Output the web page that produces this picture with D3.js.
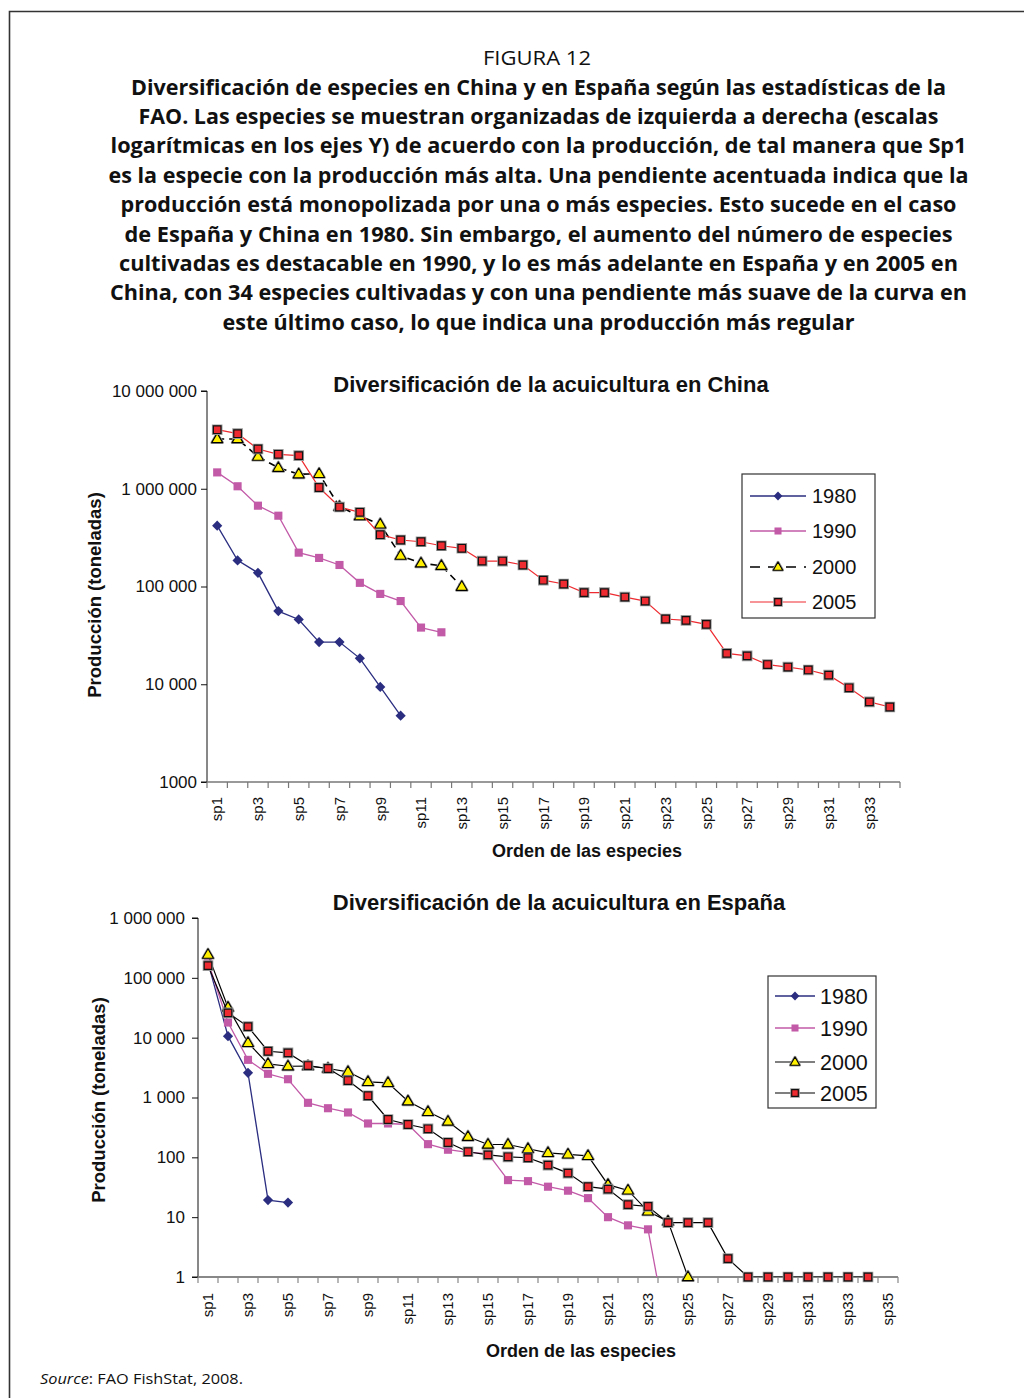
<!DOCTYPE html>
<html><head><meta charset="utf-8">
<script src="https://cdn.jsdelivr.net/npm/d3@7"></script>
<style>body{margin:0;background:#fff}</style>
</head><body><svg id="c" width="1024" height="1398"></svg>
<script>
// ---------- DATA ----------
const chinaCats = ["sp1","sp2","sp3","sp4","sp5","sp6","sp7","sp8","sp9","sp10","sp11","sp12","sp13","sp14","sp15","sp16","sp17","sp18","sp19","sp20","sp21","sp22","sp23","sp24","sp25","sp26","sp27","sp28","sp29","sp30","sp31","sp32","sp33","sp34"];
const spainCats = ["sp1","sp2","sp3","sp4","sp5","sp6","sp7","sp8","sp9","sp10","sp11","sp12","sp13","sp14","sp15","sp16","sp17","sp18","sp19","sp20","sp21","sp22","sp23","sp24","sp25","sp26","sp27","sp28","sp29","sp30","sp31","sp32","sp33","sp34","sp35"];
const seriesNames = ["1980","1990","2000","2005"];

const china1980 = [419000,185000,138000,56000,46000,27000,27000,18400,9400,4770];
const china1990 = [1470000,1060000,671000,530000,222000,196000,166000,109000,84000,71000,38000,34000];
const china2000 = [3230000,3230000,2130000,1640000,1410000,1420000,655000,526000,433000,207000,173000,163000,99600];
const china2005 = [4020000,3660000,2550000,2250000,2180000,1030000,650000,574000,339000,299000,287000,261000,246000,182000,182000,166000,116000,106000,86500,86500,78000,71000,46500,45000,41000,20700,19500,15900,15000,14000,12400,9200,6600,5850];

const spain1980 = [181000,10600,2580,19.3,17.5];
const spain1990 = [188000,17900,4260,2490,2020,815,662,562,368,368,354,166,134,121,115,41.6,40,32.3,27.7,20.8,10,7.3,6.26,0.1];
const spain2000 = [244000,32000,8200,3650,3330,3350,3050,2690,1830,1760,867,577,397,221,164,164,139,119,112,106,34.9,28,12.5,8.5,1];
const spain2005 = [160000,26000,15300,5930,5570,3420,3050,1920,1070,429,354,300,177,124,110,102,98.5,74,54.5,32.3,29.4,16.2,15.1,8.1,8.1,8.1,2.03,1,1,1,1,1,1,1];

const chinaTickValues = [1000,10000,100000,1000000,10000000];
const chinaTickLabels = ["1000","10 000","100 000","1 000 000","10 000 000"];
const spainTickValues = [1,10,100,1000,10000,100000,1000000];
const spainTickLabels = ["1","10","100","1 000","10 000","100 000","1 000 000"];

const titleLines = [
 "Diversificación de especies en China y en España según las estadísticas de la",
 "FAO. Las especies se muestran organizadas de izquierda a derecha (escalas",
 "logarítmicas en los ejes Y) de acuerdo con la producción, de tal manera que Sp1",
 "es la especie con la producción más alta. Una pendiente acentuada indica que la",
 "producción está monopolizada por una o más especies. Esto sucede en el caso",
 "de España y China en 1980. Sin embargo, el aumento del número de especies",
 "cultivadas es destacable en 1990, y lo es más adelante en España y en 2005 en",
 "China, con 34 especies cultivadas y con una pendiente más suave de la curva en",
 "este último caso, lo que indica una producción más regular"
];
const titleWidths = [815,800,856,860,836,828,839,857,632];

// ---------- DRAW ----------
const svg = d3.select("#c");
svg.append("rect").attr("width",1024).attr("height",1398).attr("fill","#fff");
svg.append("path").attr("d","M9.5,1398 V11.5 H1024").attr("fill","none").attr("stroke","#333").attr("stroke-width",1.6);

const TF = "'Open Sans', 'DejaVu Sans', sans-serif";
const AF = "'Liberation Sans', Arial, sans-serif";

svg.append("text").attr("x",537).attr("y",65).attr("text-anchor","middle")
  .attr("font-family",TF).attr("font-size",20).attr("textLength",108).attr("lengthAdjust","spacingAndGlyphs")
  .attr("fill","#111").text("FIGURA 12");
titleLines.forEach((t,i)=>{
  svg.append("text").attr("x",538.5).attr("y",94.5+i*29.4).attr("text-anchor","middle")
    .attr("font-family",TF).attr("font-weight","bold").attr("font-size",21)
    .attr("textLength",titleWidths[i]).attr("lengthAdjust","spacingAndGlyphs")
    .attr("fill","#111").text(t);
});

const src = svg.append("text").attr("x",40).attr("y",1384).attr("font-family",TF).attr("font-size",14.5)
  .attr("textLength",203).attr("lengthAdjust","spacingAndGlyphs").attr("fill","#111");
src.append("tspan").attr("font-style","italic").text("Source");
src.append("tspan").text(": FAO FishStat, 2008.");

const NAVY="#2b2e80", PINK="#c25aa8", RED="#ee2b30", YEL="#fff000";

function marker(g, type, x, y, scale){
  scale = scale||1;
  if(type==="diamond"){
    g.append("path").attr("d",d3.symbol(d3.symbolSquare,52*scale)())
     .attr("transform",`translate(${x},${y}) rotate(45)`).attr("fill",NAVY);
  } else if(type==="pinksq"){
    g.append("path").attr("d",d3.symbol(d3.symbolSquare,66*scale)())
     .attr("transform",`translate(${x},${y})`).attr("fill",PINK);
  } else if(type==="tri"){
    const p=d3.symbol(d3.symbolTriangle,52*scale)();
    g.append("path").attr("d",p).attr("transform",`translate(${x},${y+0.5})`)
     .attr("fill","none").attr("stroke","#999").attr("stroke-width",2.6).attr("stroke-linejoin","round");
    g.append("path").attr("d",p).attr("transform",`translate(${x},${y+0.5})`)
     .attr("fill",YEL).attr("stroke","#000").attr("stroke-width",1.1).attr("stroke-linejoin","round");
  } else if(type==="redsq"){
    const p=d3.symbol(d3.symbolSquare,58*scale)();
    g.append("path").attr("d",p).attr("transform",`translate(${x},${y})`)
     .attr("fill","none").attr("stroke","#999").attr("stroke-width",3);
    g.append("path").attr("d",p).attr("transform",`translate(${x},${y})`)
     .attr("fill",RED).attr("stroke","#111").attr("stroke-width",1.2);
  }
}

function drawChart(cfg){
  const g = svg.append("g");
  const x = d3.scaleBand().domain(cfg.cats).range(cfg.xRange).padding(0);
  const y = d3.scaleLog().domain(cfg.yDomain).range(cfg.yRange);
  const cx = d => x(d)+x.bandwidth()/2;
  const clipId = "clip"+cfg.id;
  svg.append("clipPath").attr("id",clipId).append("rect")
    .attr("x",cfg.xRange[0]).attr("y",cfg.yRange[1]-5)
    .attr("width",cfg.xRange[1]-cfg.xRange[0]).attr("height",cfg.yRange[0]-cfg.yRange[1]+5);

  g.append("text").attr("x",cfg.titleX).attr("y",cfg.titleY).attr("text-anchor","middle")
    .attr("font-family",AF).attr("font-weight","bold").attr("font-size",22).attr("fill","#111").text(cfg.title);

  const ya = d3.axisLeft(y).tickValues(cfg.tickValues).tickSize(6).tickPadding(cfg.tickPad)
      .tickFormat((d,i)=>cfg.tickLabels[i]);
  const yg = g.append("g").attr("transform",`translate(${cfg.xRange[0]},0)`).call(ya);
  yg.select(".domain").attr("stroke","#111").attr("d",`M-6,${cfg.yRange[0]}H0V${cfg.yRange[1]}H-6`);
  yg.selectAll(".tick line").attr("stroke","#111");
  yg.selectAll(".tick text").attr("font-family",AF).attr("font-size",17).attr("fill","#111");

  const xg = g.append("g");
  xg.append("line").attr("x1",cfg.xRange[0]).attr("x2",cfg.xRange[1]).attr("y1",cfg.yRange[0]).attr("y2",cfg.yRange[0])
    .attr("stroke",cfg.xAxisColor).attr("stroke-width",cfg.xAxisW);
  const bounds = cfg.cats.map(c=>x(c)).concat([cfg.xRange[1]]);
  xg.selectAll("line.tk").data(bounds).join("line").attr("class","tk")
    .attr("x1",d=>d).attr("x2",d=>d).attr("y1",cfg.yRange[0]).attr("y2",cfg.yRange[0]+6)
    .attr("stroke",cfg.xAxisColor).attr("stroke-width",1.2);
  xg.selectAll("text").data(cfg.cats.filter((c,i)=>i%2===0)).join("text")
    .attr("transform",d=>`translate(${cx(d)},${cfg.yRange[0]+cfg.xLabGap}) rotate(-90)`)
    .attr("text-anchor","end").attr("dy","0.35em").attr("font-family",AF).attr("font-size",15).attr("fill","#111")
    .text(d=>d);

  g.append("text").attr("transform",`translate(${cfg.yTitleX},${cfg.yTitleY}) rotate(-90)`).attr("text-anchor","middle")
    .attr("font-family",AF).attr("font-weight","bold").attr("font-size",18.5).attr("fill","#111").text("Producción (toneladas)");
  g.append("text").attr("x",cfg.xTitleX).attr("y",cfg.xTitleY).attr("text-anchor","middle")
    .attr("font-family",AF).attr("font-weight","bold").attr("font-size",18).attr("fill","#111").text("Orden de las especies");

  const minV = cfg.yDomain[0];
  cfg.series.forEach(s=>{
    const pts = s.values.map((v,i)=>({c:cfg.cats[i], v}));
    const line = d3.line().x(d=>cx(d.c)).y(d=>y(d.v));
    g.append("path").datum(pts).attr("d",line).attr("fill","none")
      .attr("stroke",s.lineColor).attr("stroke-width",s.lw).attr("stroke-dasharray",s.dash||null)
      .attr("clip-path",`url(#${clipId})`);
    const mg = g.append("g");
    pts.filter(d=>d.v>=minV).forEach(d=>marker(mg,s.marker,cx(d.c),y(d.v)));
  });

  const L = cfg.legend;
  const lg = g.append("g");
  lg.append("rect").attr("x",L.x).attr("y",L.y).attr("width",L.w).attr("height",L.h)
    .attr("fill","#fff").attr("stroke","#333").attr("stroke-width",1.2);
  cfg.series.forEach((s,i)=>{
    const yy = L.rows[i];
    lg.append("line").attr("x1",L.lx1).attr("x2",L.lx2).attr("y1",yy).attr("y2",yy)
      .attr("stroke",s.lineColor).attr("stroke-width",s.lw).attr("stroke-dasharray",s.legDash||null);
    marker(lg,s.marker,(L.lx1+L.lx2)/2,yy,0.75);
    lg.append("text").attr("x",L.tx).attr("y",yy).attr("dy","0.36em").attr("font-family",AF)
      .attr("font-size",L.fs).attr("fill","#111").text(seriesNames[i]);
  });
}

drawChart({
  id:"china", cats:chinaCats, xRange:[207,900], yDomain:[1000,10000000], yRange:[782,391],
  tickValues:chinaTickValues, tickLabels:chinaTickLabels, tickPad:4,
  title:"Diversificación de la acuicultura en China", titleX:551, titleY:392,
  yTitleX:101, yTitleY:595, xTitleX:587, xTitleY:857, xLabGap:15,
  xAxisColor:"#777", xAxisW:1.3,
  series:[
    {values:china1980, lineColor:NAVY, lw:1.3, marker:"diamond"},
    {values:china1990, lineColor:PINK, lw:1.3, marker:"pinksq"},
    {values:china2000, lineColor:"#000", lw:1.6, dash:"7,5", legDash:"10,8", marker:"tri"},
    {values:china2005, lineColor:RED, lw:1.2, marker:"redsq"}
  ],
  legend:{x:742,y:474,w:133,h:144,rows:[496,531,567,602],lx1:750,lx2:806,tx:812,fs:20}
});

drawChart({
  id:"spain", cats:spainCats, xRange:[198,898], yDomain:[1,1000000], yRange:[1277,918],
  tickValues:spainTickValues, tickLabels:spainTickLabels, tickPad:7,
  title:"Diversificación de la acuicultura en España", titleX:559, titleY:910,
  yTitleX:105, yTitleY:1100, xTitleX:581, xTitleY:1357, xLabGap:16,
  xAxisColor:"#888", xAxisW:2,
  series:[
    {values:spain1980, lineColor:NAVY, lw:1.3, marker:"diamond"},
    {values:spain1990, lineColor:PINK, lw:1.3, marker:"pinksq"},
    {values:spain2000, lineColor:"#000", lw:1.2, marker:"tri"},
    {values:spain2005, lineColor:"#000", lw:1.2, marker:"redsq"}
  ],
  legend:{x:768,y:976,w:108,h:132,rows:[996,1028,1062,1093],lx1:775,lx2:815,tx:820,fs:21.5}
});
</script></body></html>
